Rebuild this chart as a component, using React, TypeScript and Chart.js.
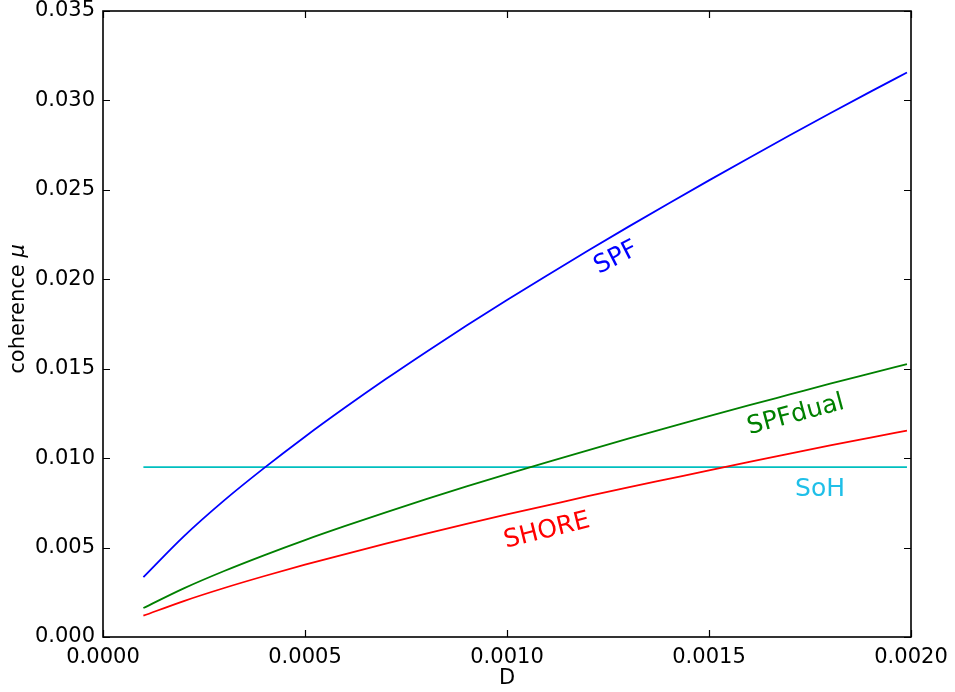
import React, { useEffect, useRef } from "react";
import { Chart, registerables } from "chart.js";

Chart.register(...registerables);

// D values (x)
const dValues = [
  0.0001, 0.0002, 0.0003, 0.0004, 0.0005, 0.0006, 0.0007, 0.0008, 0.0009, 0.001,
  0.0011, 0.0012, 0.0013, 0.0014, 0.0015, 0.0016, 0.0017, 0.0018, 0.0019, 0.00199,
];

const spfValues = [
  0.00335, 0.00563, 0.00764, 0.00947, 0.0112, 0.01284, 0.01442, 0.01594, 0.01741, 0.01884,
  0.02023, 0.0216, 0.02293, 0.02424, 0.02553, 0.0268, 0.02805, 0.02928, 0.03049, 0.03156,
];

const spfDualValues = [
  0.00162, 0.00272, 0.00369, 0.00458, 0.00542, 0.00621, 0.00697, 0.00771, 0.00842, 0.00911,
  0.00978, 0.01044, 0.01109, 0.01172, 0.01235, 0.01296, 0.01356, 0.01416, 0.01474, 0.01526,
];

const shoreValues = [
  0.00119, 0.00201, 0.00274, 0.00341, 0.00404, 0.00464, 0.00522, 0.00578, 0.00632, 0.00685,
  0.00736, 0.00787, 0.00836, 0.00884, 0.00932, 0.00979, 0.01025, 0.01071, 0.01115, 0.01154,
];

const sohValue = 0.0095;

const xTicks = [0, 0.0005, 0.001, 0.0015, 0.002];
const yTicks = [0, 0.005, 0.01, 0.015, 0.02, 0.025, 0.03, 0.035];

const seriesNames = ["SPF", "SPFdual", "SHORE", "SoH"];

const FONT = "'DejaVu Sans', 'Liberation Sans', sans-serif";

const labelConfig = [
  { text: "SPF", x: 0.00127, y: 0.02119, rot: -27, color: "#0000ff" },
  { text: "SPFdual", x: 0.001715, y: 0.01241, rot: -15, color: "#008000" },
  { text: "SHORE", x: 0.001099, y: 0.00593, rot: -14, color: "#ff0000" },
  { text: "SoH", x: 0.001775, y: 0.00827, rot: 0, color: "#1fbfe8" },
];

const frameAndLabels = {
  id: "frameAndLabels",
  afterDatasetsDraw(chart: any) {
    const ctx = chart.ctx;
    const { left, right, top, bottom } = chart.chartArea;
    const xs = chart.scales.x;
    const ys = chart.scales.y;
    ctx.save();
    ctx.strokeStyle = "#000";
    ctx.lineWidth = 1.6;
    ctx.strokeRect(left, top, right - left, bottom - top);
    ctx.lineWidth = 1.2;
    const tl = 7;
    ctx.beginPath();
    xTicks.forEach((v) => {
      const px = Math.round(xs.getPixelForValue(v)) + 0.5;
      ctx.moveTo(px, bottom);
      ctx.lineTo(px, bottom - tl);
      ctx.moveTo(px, top);
      ctx.lineTo(px, top + tl);
    });
    yTicks.forEach((v) => {
      const py = Math.round(ys.getPixelForValue(v)) + 0.5;
      ctx.moveTo(left, py);
      ctx.lineTo(left + tl, py);
      ctx.moveTo(right, py);
      ctx.lineTo(right - tl, py);
    });
    ctx.stroke();
    ctx.font = `25px ${FONT}`;
    ctx.textAlign = "center";
    ctx.textBaseline = "middle";
    labelConfig.forEach((l) => {
      const px = xs.getPixelForValue(l.x);
      const py = ys.getPixelForValue(l.y);
      ctx.save();
      ctx.translate(px, py);
      ctx.rotate((l.rot * Math.PI) / 180);
      ctx.fillStyle = l.color;
      ctx.fillText(l.text, 0, 0);
      ctx.restore();
    });
    ctx.save();
    ctx.translate(19, 309);
    ctx.rotate(-Math.PI / 2);
    ctx.fillStyle = "#000";
    ctx.textBaseline = "middle";
    ctx.font = `21px ${FONT}`;
    const t1 = "coherence ";
    const w1 = ctx.measureText(t1).width;
    ctx.font = `italic 21px ${FONT}`;
    const w2 = ctx.measureText("μ").width;
    const start = -(w1 + w2) / 2;
    ctx.textAlign = "left";
    ctx.font = `21px ${FONT}`;
    ctx.fillText(t1, start, 0);
    ctx.font = `italic 21px ${FONT}`;
    ctx.fillText("μ", start + w1, 0);
    ctx.restore();
    ctx.font = `21px ${FONT}`;
    ctx.fillStyle = "#000";
    ctx.textAlign = "center";
    ctx.textBaseline = "middle";
    ctx.fillText("D", (left + right) / 2, 679);
    ctx.restore();
  },
};

export default function App() {
  const ref = useRef<HTMLCanvasElement>(null);
  useEffect(() => {
    if (!ref.current) return;
    const mk = (vals: number[]) => dValues.map((x, i) => ({ x, y: vals[i] }));
    const chart = new Chart(ref.current, {
      type: "line",
      data: {
        datasets: [
          { label: seriesNames[0], data: mk(spfValues), borderColor: "#0000ff" },
          { label: seriesNames[1], data: mk(spfDualValues), borderColor: "#008000" },
          { label: seriesNames[2], data: mk(shoreValues), borderColor: "#ff0000" },
          {
            label: seriesNames[3],
            data: [
              { x: dValues[0], y: sohValue },
              { x: dValues[dValues.length - 1], y: sohValue },
            ],
            borderColor: "#00bfbf",
          },
        ].map((d) => ({
          ...d,
          borderWidth: 1.8,
          pointRadius: 0,
          fill: false,
          tension: 0.4,
          cubicInterpolationMode: "monotone" as const,
        })),
      },
      options: {
        responsive: false,
        animation: false,
        layout: { padding: { top: 11, right: 44, left: 0, bottom: 0 } },
        plugins: { legend: { display: false }, tooltip: { enabled: false } },
        scales: {
          x: {
            type: "linear",
            min: 0,
            max: 0.002,
            afterBuildTicks: (s: any) => {
              s.ticks = xTicks.map((v) => ({ value: v }));
            },
            afterFit: (s: any) => {
              s.height = 55;
              s.paddingLeft = 0;
              s.paddingRight = 0;
            },
            grid: { display: false, drawTicks: false },
            border: { display: false },
            ticks: {
              color: "#000",
              padding: 8,
              maxRotation: 0,
              autoSkip: false,
              font: { family: FONT, size: 21 },
              callback: (v: any) => Number(v).toFixed(4),
            },
          },
          y: {
            type: "linear",
            min: 0,
            max: 0.035,
            afterBuildTicks: (s: any) => {
              s.ticks = yTicks.map((v) => ({ value: v }));
            },
            afterFit: (s: any) => {
              s.width = 103;
              s.paddingTop = 0;
              s.paddingBottom = 0;
            },
            grid: { display: false, drawTicks: false },
            border: { display: false },
            ticks: {
              color: "#000",
              padding: 8,
              autoSkip: false,
              font: { family: FONT, size: 21 },
              callback: (v: any) => Number(v).toFixed(3),
            },
          },
        },
      },
      plugins: [frameAndLabels],
    });
    return () => chart.destroy();
  }, []);
  return (
    <div style={{ position: "fixed", left: 0, top: 0, width: 955, height: 692, background: "#fff" }}>
      <canvas ref={ref} width={955} height={692} style={{ width: 955, height: 692 }} />
    </div>
  );
}
